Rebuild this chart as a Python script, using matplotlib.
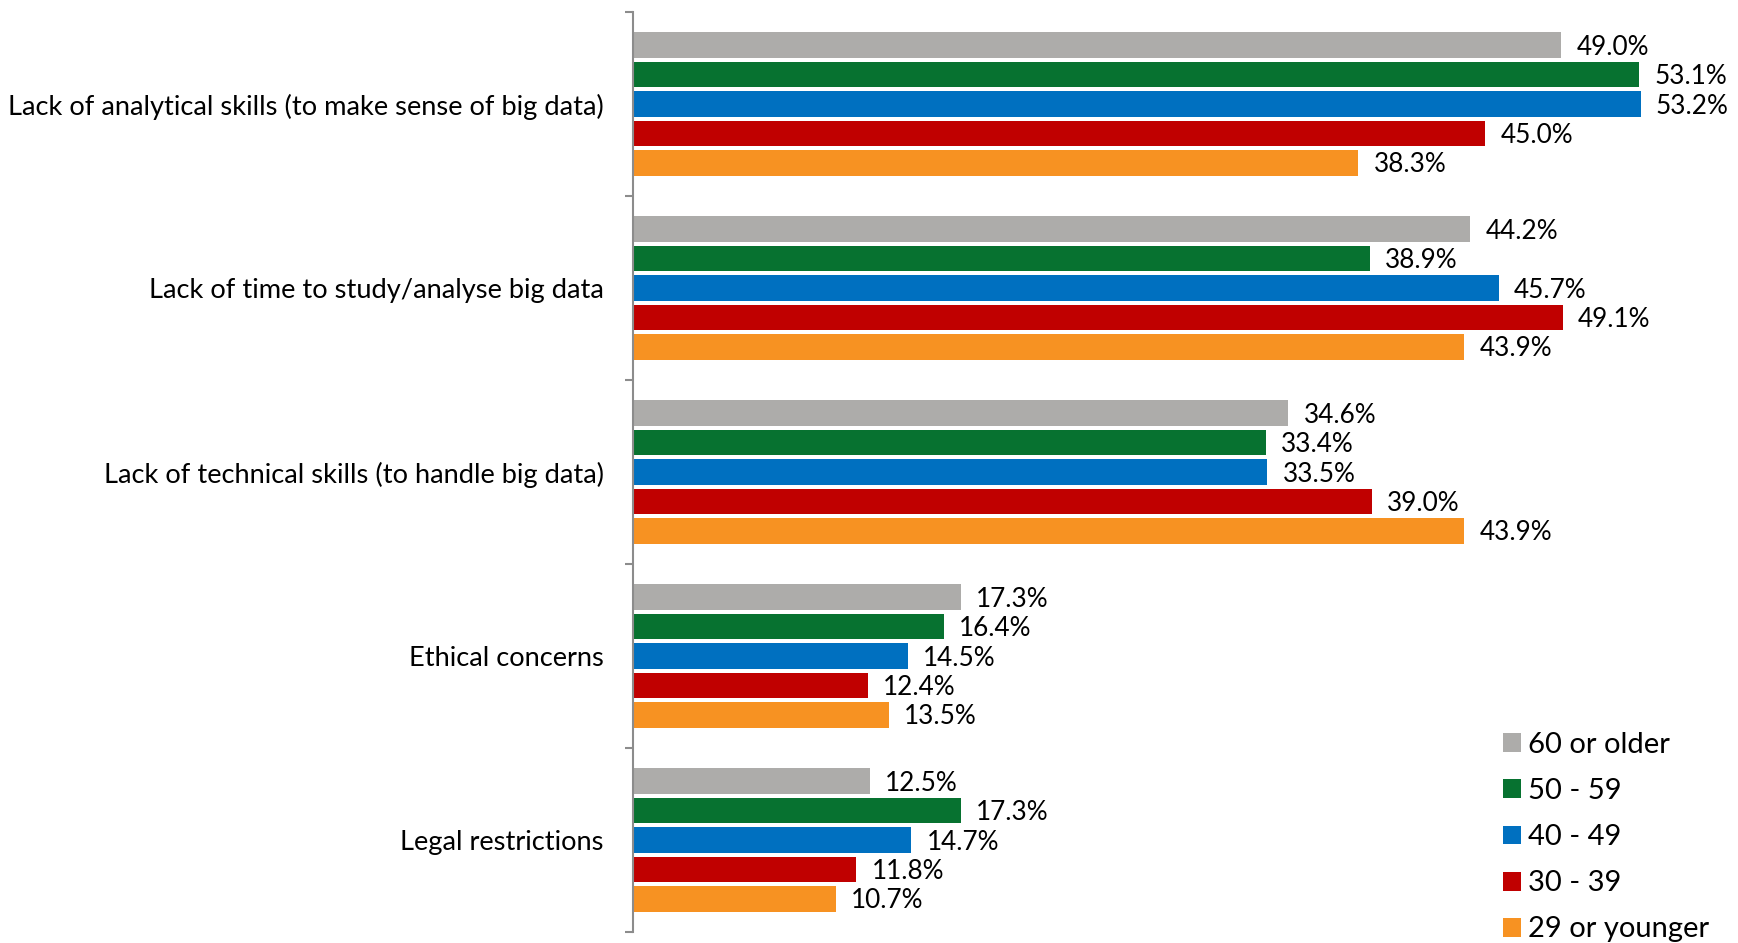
import matplotlib
matplotlib.use("Agg")
import matplotlib.pyplot as plt
import numpy as np
from matplotlib.patches import Patch

plt.rcParams["font.family"] = ["Lato", "DejaVu Sans"]

categories = [
    "Lack of analytical skills (to make sense of big data)",
    "Lack of time to study/analyse big data",
    "Lack of technical skills (to handle big data)",
    "Ethical concerns",
    "Legal restrictions",
]
age_groups = ["60 or older", "50 - 59", "40 - 49", "30 - 39", "29 or younger"]
colors = ["#ADACAA", "#077230", "#0070C0", "#C00000", "#F79222"]

age_60_plus = [49.0, 44.2, 34.6, 17.3, 12.5]
age_50_59 = [53.1, 38.9, 33.4, 16.4, 17.3]
age_40_49 = [53.2, 45.7, 33.5, 14.5, 14.7]
age_30_39 = [45.0, 49.1, 39.0, 12.4, 11.8]
age_29_minus = [38.3, 43.9, 43.9, 13.5, 10.7]
series = [age_60_plus, age_50_59, age_40_49, age_30_39, age_29_minus]

W, H = 1738, 943
fig = plt.figure(figsize=(W / 100, H / 100), dpi=100)
ax = fig.add_axes([633 / W, 1 - 932 / H, 1 - 633 / W, (932 - 12) / H])

y = np.arange(len(categories))
pitch = 0.16
for j, (vals, col) in enumerate(zip(series, colors)):
    ypos = y + (j - 2) * pitch
    ax.barh(ypos, vals, height=0.14, color=col, linewidth=0)
    for yy, v in zip(ypos, vals):
        ax.annotate(f"{v:.1f}%", (v, yy), xytext=(11, -1.5), textcoords="offset points",
                    va="center", ha="left", fontsize=18.8, color="#000000",
                    annotation_clip=False)

ax.set_xlim(0, (W - 633) / 18.94)
ax.set_ylim(len(categories) - 0.5, -0.5)

for s in ("top", "right", "bottom"):
    ax.spines[s].set_visible(False)
ax.spines["left"].set_color("#8C8C8C")
ax.spines["left"].set_linewidth(1.5)
ax.set_xticks([])

ax.set_yticks(np.arange(len(categories) + 1) - 0.5)
ax.set_yticklabels([])
ax.tick_params(axis="y", which="major", length=6, width=1.5, color="#8C8C8C")
ax.set_yticks(y, minor=True)
ax.set_yticklabels(categories, minor=True, fontsize=19.6)
ax.tick_params(axis="y", which="minor", length=0, pad=21)

handles = [Patch(facecolor=c, edgecolor="none") for c in colors]
fig.legend(handles, age_groups, loc="upper left", bbox_to_anchor=(1503 / W, 1 - 732 / H),
           frameon=False, fontsize=21, handlelength=0.62, handleheight=0.62,
           handletextpad=0.24, labelspacing=0.69, borderpad=0, borderaxespad=0)

fig.savefig("out.png", dpi=100)
